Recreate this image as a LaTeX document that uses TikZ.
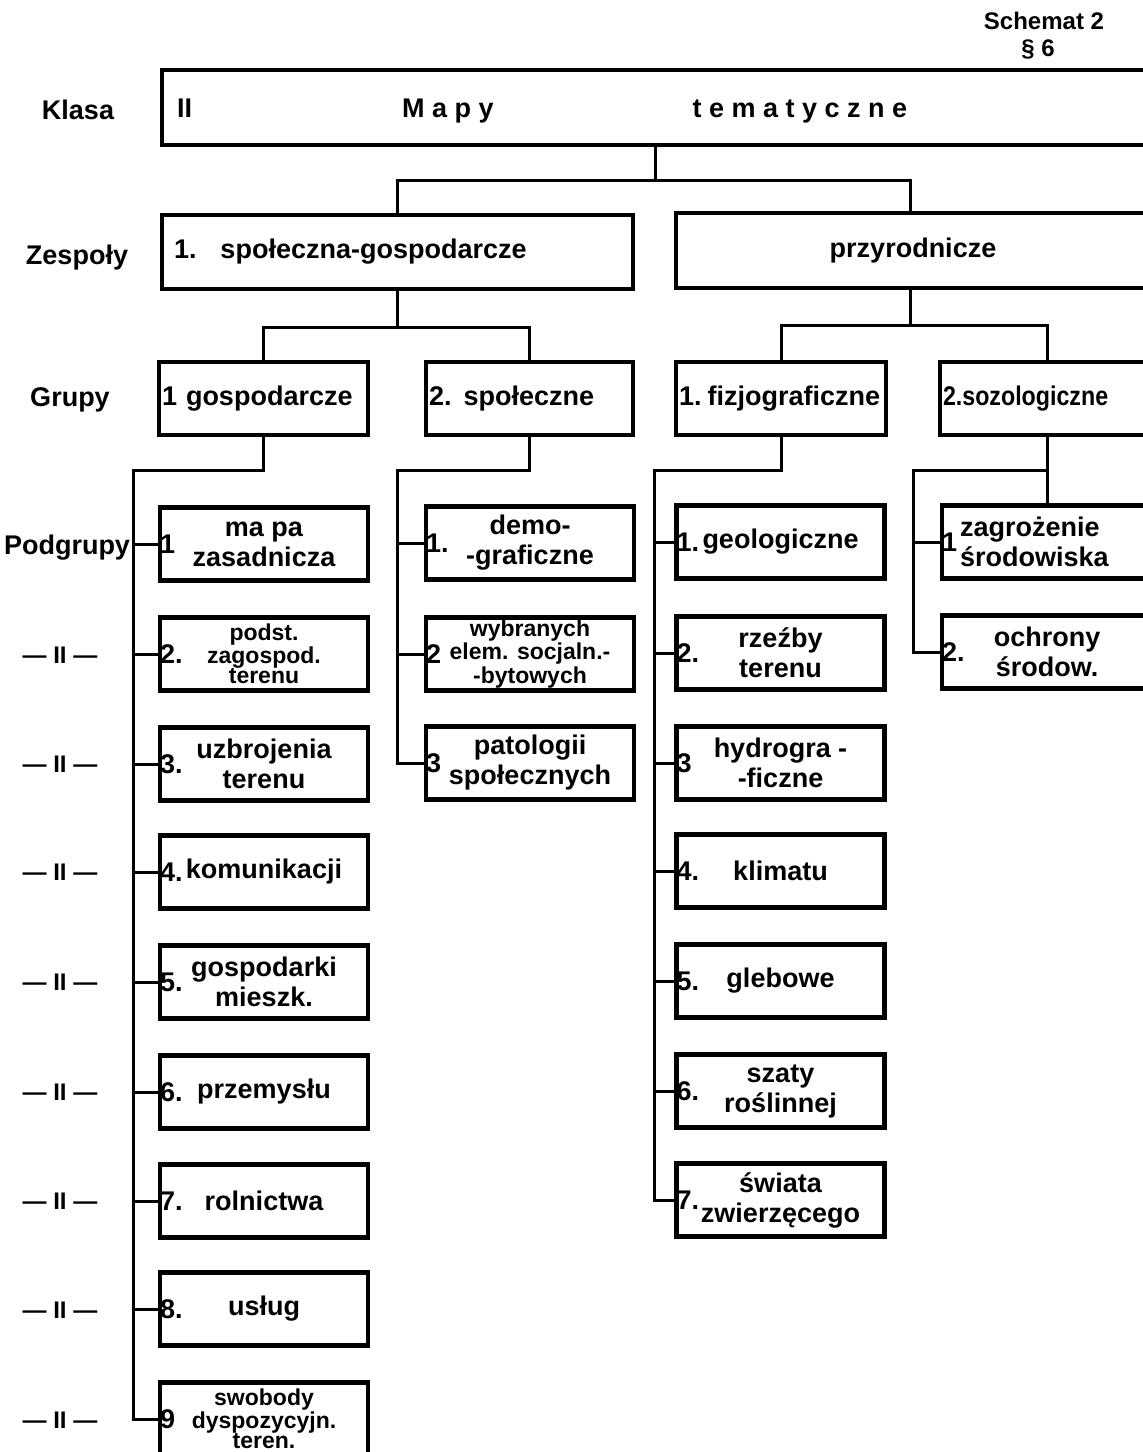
\documentclass[tikz,border=0pt]{standalone}
\usepackage{fontspec}
\setmainfont{Liberation Sans}
\usetikzlibrary{positioning}

\tikzset{
    every node/.style={font=\bfseries\fontsize{13.5}{15}\selectfont},
    frame/.style={draw, rectangle, line width=2.2pt, inner sep=2pt},
    sbox/.style={frame, minimum width=104pt, minimum height=36.5pt, align=center},
    gbox/.style={frame, minimum height=36.5pt, align=left, inner xsep=1.5pt, text width=#1},
    tight/.style={font=\bfseries\fontsize{11.5}{10}\selectfont, inner ysep=0.5pt},
    nr/.style={label={[anchor=west, inner sep=1pt]west:#1}},
    link/.style={line width=1.5pt},
    ditto/.style={font=\bfseries\fontsize{12}{14}\selectfont},
    head/.style={font=\bfseries\fontsize{12}{14}\selectfont}
}

\begin{document}
\begin{tikzpicture}[x=0.5pt, y=-0.5pt]
    \useasboundingbox (0,0) rectangle (1143,1452);
    \clip (0,0) rectangle (1143,1452);

    % naglowek
    \node[head] (sch) at (1044,21) {Schemat 2};
    \node[head] (par) at (1038,49) {\S\ 6};

    % opisy poziomow
    \node (lkl) at (78,110) {Klasa};
    \node (lzs) at (77,258) {Zespoły};
    \node (lgr) at (70,400) {Grupy};
    \node (lpg) at (67,548) {Podgrupy};
    \foreach \y in {655,764,872,982,1092,1201,1310,1420}
        \node[ditto] (ld\y) at (60,\y) {— II —};

    % klasa
    \node[frame, minimum width=499pt, minimum height=37.5pt] (kl) at (661,107.5) {};
    \node[anchor=base west] (klnr) at (170,117) {II};
    \node[anchor=base] (klm) at (448,117) {M a p y};
    \node[anchor=base] (klt) at (800,117) {t e m a t y c z n e};

    % zespoly
    \node[frame, minimum height=37pt, align=left, inner xsep=6pt, text width=223.5pt] (zs1) at (397.5,252)
        {1.\hspace{12pt}społeczna-gospodarcze};
    \node[frame, minimum width=237pt, minimum height=37.5pt] (zs2) at (913,250.5) {przyrodnicze};

    % grupy
    \node[gbox=101.5pt] (g1) at (263.5,398.5) {1 gospodarcze};
    \node[gbox=100.5pt] (g2) at (529.5,398.5) {2.\hspace{6pt}społeczne};
    \node[gbox=102pt] (g3) at (781,398.5) {1.\hspace{3pt}fizjograficzne};
    \node[gbox=104pt, font=\bfseries\fontsize{13.5}{15}\selectfont\addfontfeature{FakeStretch=0.86}] (g4) at (1047,398.5) {2.sozologiczne};

    % podgrupy
    \path
        (264,544)   node[sbox, nr=1] (pa1) {ma pa\\zasadnicza}
     ++ (0,110)     node[sbox, tight, nr=2.] (pa2) {podst.\\zagospod.\\terenu}
     ++ (0,110)     node[sbox, nr=3.] (pa3) {uzbrojenia\\terenu}
     ++ (0,108)     node[sbox, nr=4.] (pa4) {komunikacji}
     ++ (0,110)     node[sbox, nr=5.] (pa5) {gospodarki\\mieszk.}
     ++ (0,110)     node[sbox, nr=6.] (pa6) {przemysłu}
     ++ (0,109)     node[sbox, nr=7.] (pa7) {rolnictwa}
     ++ (0,108)     node[sbox, nr=8.] (pa8) {usług}
     ++ (0,110)     node[sbox, tight, nr=9] (pa9) {swobody\\dyspozycyjn.\\teren.}
     ;
    \path
        (530,543)   node[sbox, nr=1.] (pb1) {demo-\\-graficzne}
     ++ (0,111)     node[sbox, tight, nr=2] (pb2) {wybranych\\elem. socjaln.-\\-bytowych}
     ++ (0,109)     node[sbox, nr=3] (pb3) {patologii\\społecznych}
     ;
    \path
        (780.5,542) node[sbox, nr=1.] (pc1) {geologiczne}
     ++ (0,111)     node[sbox, nr=2.] (pc2) {rzeźby\\terenu}
     ++ (0,110)     node[sbox, nr=3] (pc3) {hydrogra -\\-ficzne}
     ++ (0,108)     node[sbox, nr=4.] (pc4) {klimatu}
     ++ (0,110)     node[sbox, nr=5.] (pc5) {glebowe}
     ++ (0,110)     node[sbox, nr=6.] (pc6) {szaty\\roślinnej}
     ++ (0,109)     node[sbox, nr=7.] (pc7) {świata\\zwierzęcego}
     ;
    \path
        (1047,542)  node[sbox, minimum width=105pt, align=left, text width=87pt, nr=1] (pd1) {zagrożenie\\środowiska}
     ++ (0,110)     node[sbox, minimum width=105pt, nr=2.] (pd2) {ochrony\\środow.}
     ;

    % polaczenia
    \coordinate (kz) at (655,180);
    \coordinate (zg1) at (397,327);
    \coordinate (zg2) at (910,325);
    \draw[link] (kl.south -| kz) -- (kz);
    \draw[link] (zs1.north -| zg1) |- (kz) -| (zs2.north -| zg2);
    \draw[link] (zs1.south -| zg1) -- (zg1);
    \draw[link] (g1.north) |- (zg1) -| (g2.north);
    \draw[link] (zs2.south -| zg2) -- (zg2);
    \draw[link] (g3.north) |- (zg2) -| (g4.north);

    \coordinate (ta) at (133,470);
    \coordinate (tb) at (397,470);
    \coordinate (tc) at (654,470);
    \coordinate (td) at (913,470);
    \draw[link] (g1.south) |- (ta) |- (pa9.west);
    \foreach \i in {1,...,8}
        \draw[link] (ta |- pa\i) -- (pa\i.west);
    \draw[link] (g2.south) |- (tb) |- (pb3.west);
    \foreach \i in {1,2}
        \draw[link] (tb |- pb\i) -- (pb\i.west);
    \draw[link] (g3.south) |- (tc) |- (pc7.west);
    \foreach \i in {1,...,6}
        \draw[link] (tc |- pc\i) -- (pc\i.west);
    \draw[link] (g4.south) -- (pd1.north);
    \draw[link] (g4.south |- td) -- (td) |- (pd2.west);
    \draw[link] (td |- pd1) -- (pd1.west);
\end{tikzpicture}
\end{document}
